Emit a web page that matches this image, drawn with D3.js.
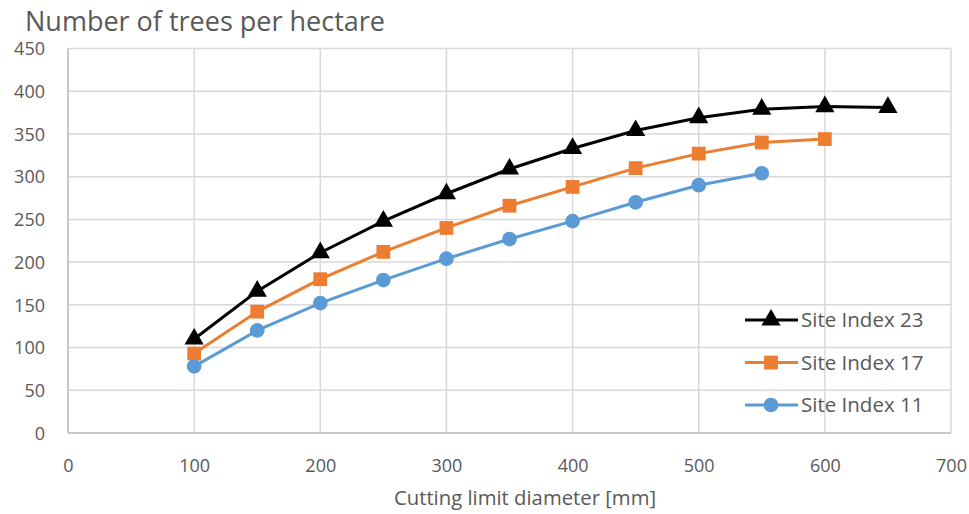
<!DOCTYPE html>
<html><head><meta charset="utf-8">
<script src="https://cdn.jsdelivr.net/npm/d3@7"></script>
<style>body{margin:0;background:#fff}svg{display:block}</style>
</head><body>
<script>
const diameters = [100,150,200,250,300,350,400,450,500,550,600,650];
const si23 = [110,166,211,248,280,309,333,354,369,379,382,381];
const si17 = [93,142,180,212,240,266,288,310,327,340,344];
const si11 = [78,120,152,179,204,227,248,270,290,304];
const seriesNames = ["Site Index 23","Site Index 17","Site Index 11"];
const xTicks = [0,100,200,300,400,500,600,700];
const yTicks = [0,50,100,150,200,250,300,350,400,450];

const W=969,H=514;
const svg=d3.select("body").append("svg").attr("width",W).attr("height",H);
const font="'Open Sans', sans-serif";
const x=d3.scaleLinear().domain([0,700]).range([68,951]);
const y=d3.scaleLinear().domain([0,450]).range([433,48.5]);

// grid
svg.append("g").selectAll("line").data(yTicks).join("line")
 .attr("x1",x(0)).attr("x2",x(700)).attr("y1",d=>y(d)).attr("y2",d=>y(d))
 .attr("stroke","#d9d9d9").attr("stroke-width",1.5);
svg.append("g").selectAll("line").data(xTicks).join("line")
 .attr("y1",y(0)).attr("y2",y(450)).attr("x1",d=>x(d)).attr("x2",d=>x(d))
 .attr("stroke","#d9d9d9").attr("stroke-width",1.5);
// axes lines
svg.append("line").attr("x1",x(0)).attr("x2",x(700)).attr("y1",y(0)).attr("y2",y(0)).attr("stroke","#bfbfbf").attr("stroke-width",1.5);
svg.append("line").attr("x1",x(0)).attr("x2",x(0)).attr("y1",y(0)).attr("y2",y(450)).attr("stroke","#bfbfbf").attr("stroke-width",1.5);

const xAxis=d3.axisBottom(x).tickValues(xTicks).tickSize(0).tickPadding(0);
const gx=svg.append("g").attr("transform",`translate(0,${y(0)})`).call(xAxis);
gx.select(".domain").remove();
gx.selectAll("text").attr("y",39).attr("dy",0).attr("font-family",font).attr("font-size",18).attr("fill","#595959");
const yAxis=d3.axisLeft(y).tickValues(yTicks).tickSize(0).tickPadding(0);
const gy=svg.append("g").attr("transform",`translate(45,0)`).call(yAxis);
gy.select(".domain").remove();
gy.selectAll("text").attr("x",0).attr("dy","0.35em").attr("font-family",font).attr("font-size",18).attr("fill","#595959");

svg.append("text").attr("x",25).attr("y",31).attr("font-family",font).attr("font-size",27).attr("fill","#595959").text("Number of trees per hectare");
svg.append("text").attr("x",525).attr("y",505).attr("text-anchor","middle").attr("font-family",font).attr("font-size",20.3).attr("fill","#595959").text("Cutting limit diameter [mm]");

const series=[
 {name:seriesNames[0],vals:si23,color:"#000000",shape:d3.symbolTriangle},
 {name:seriesNames[1],vals:si17,color:"#ED7D31",shape:d3.symbolSquare},
 {name:seriesNames[2],vals:si11,color:"#5B9BD5",shape:d3.symbolCircle}
];
const line=d3.line().x((d,i)=>x(diameters[i])).y(d=>y(d));
series.forEach(s=>{
 svg.append("path").datum(s.vals).attr("d",line).attr("fill","none").attr("stroke",s.color).attr("stroke-width",3);
 const sym=d3.symbol().type(s.shape).size(s.shape===d3.symbolCircle?170:(s.shape===d3.symbolSquare?190:160));
 svg.append("g").selectAll("path").data(s.vals).join("path")
  .attr("d",sym).attr("transform",(d,i)=>`translate(${x(diameters[i])},${y(d)})`).attr("fill",s.color);
});

// legend
const lg=svg.append("g");
series.forEach((s,i)=>{
 const ly=320+i*42.5;
 lg.append("line").attr("x1",745).attr("x2",798).attr("y1",ly).attr("y2",ly).attr("stroke",s.color).attr("stroke-width",3);
 const sym=d3.symbol().type(s.shape).size(s.shape===d3.symbolCircle?170:(s.shape===d3.symbolSquare?190:160));
 lg.append("path").attr("d",sym).attr("transform",`translate(771,${ly})`).attr("fill",s.color);
 lg.append("text").attr("x",801).attr("y",ly).attr("dy","0.35em").attr("font-family",font).attr("font-size",20.5).attr("fill","#595959").text(s.name);
});
</script>
</body></html>
